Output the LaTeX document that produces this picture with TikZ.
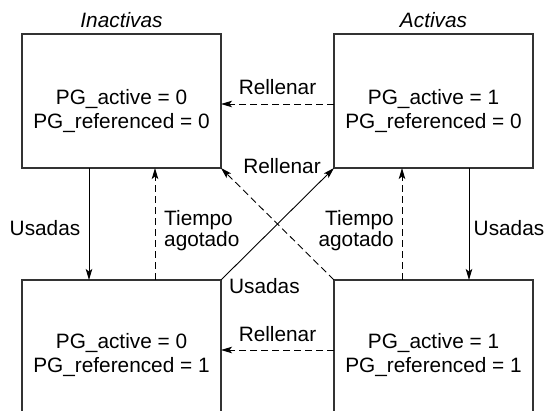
\documentclass[tikz,border=0pt]{standalone}
\usepackage{fontspec}
\setmainfont{Liberation Sans}
\usetikzlibrary{arrows.meta,calc}
\tikzset{
  statebox/.style={draw=black!80, line width=1.2pt, minimum width=199pt, minimum height=134pt, inner sep=0pt, outer sep=0pt},
  txt/.style={font=\fontsize{20.8}{23.5}\selectfont, inner sep=0pt, anchor=base},
  solidarrow/.style={line width=0.9pt, -{Stealth[length=11pt,width=6.5pt,inset=2.5pt]}},
  dasharrow/.style={solidarrow, dash pattern=on 7pt off 4pt}
}
\begin{document}
\begin{tikzpicture}[x=1pt,y=-1pt]
\useasboundingbox (0,0) rectangle (547,411);
\clip (0,0) rectangle (547,411);
% boxes
\node[statebox] (tl) at (121.5,101) {};
\node[statebox] (tr) at (433.5,101) {};
\node[statebox] (bl) at (121.5,347) {};
\node[statebox] (br) at (433.5,347) {};
% titles
\node[txt, font=\fontsize{20.8}{23.5}\selectfont\itshape] (ti) at (121.5,28) {Inactivas};
\node[txt, font=\fontsize{20.8}{23.5}\selectfont\itshape] (ta) at (433.5,28) {Activas};
% box contents (base = last line)
\node[txt, align=center] (ttl) at ($(tl.north)+(0,94.5)$) {PG\_active = 0\\PG\_referenced = 0};
\node[txt, align=center] (ttr) at ($(tr.north)+(0,94.5)$) {PG\_active = 1\\PG\_referenced = 0};
\node[txt, align=center] (tbl) at ($(bl.north)+(0,92.5)$) {PG\_active = 0\\PG\_referenced = 1};
\node[txt, align=center] (tbr) at ($(br.north)+(0,92.5)$) {PG\_active = 1\\PG\_referenced = 1};
% horizontal refill arrows
\coordinate (h1s) at ($(tr.north west)+(0,70)$);
\coordinate (h1e) at ($(tl.north east)+(0,70)$);
\draw[dasharrow] (h1s) -- (h1e);
\node[txt] (r1) at (277.5,95) {Rellenar};
\coordinate (h2s) at ($(br.north west)+(0,70)$);
\coordinate (h2e) at ($(bl.north east)+(0,70)$);
\draw[dasharrow] (h2s) -- (h2e);
\node[txt] (r2) at (277.5,341.5) {Rellenar};
% vertical arrows left
\draw[solidarrow] ($(tl.south west)+(67,0)$) -- ($(bl.north west)+(67,0)$);
\draw[dasharrow] ($(bl.north west)+(133,0)$) -- ($(tl.south west)+(133,0)$);
\node[txt] (u1) at (45,236) {Usadas};
\node[txt, font=\fontsize{20.8}{21}\selectfont, anchor=base west, align=left] (tg1) at (164,246.5) {Tiempo\\agotado};
% vertical arrows right
\draw[dasharrow] ($(br.north west)+(68,0)$) -- ($(tr.south west)+(68,0)$);
\draw[solidarrow] ($(tr.south west)+(135,0)$) -- ($(br.north west)+(135,0)$);
\node[txt] (u2) at (509,236) {Usadas};
\node[txt, font=\fontsize{20.8}{21}\selectfont, anchor=base east, align=right] (tg2) at (394,246.5) {Tiempo\\agotado};
% diagonals
\draw[solidarrow] (bl.north east) -- (tr.south west);
\draw[dasharrow] (br.north west) -- (tl.south east);
\node[txt] (r3) at (282,174) {Rellenar};
\node[txt, anchor=base west] (u3) at (229,293.5) {Usadas};
\end{tikzpicture}
\end{document}
